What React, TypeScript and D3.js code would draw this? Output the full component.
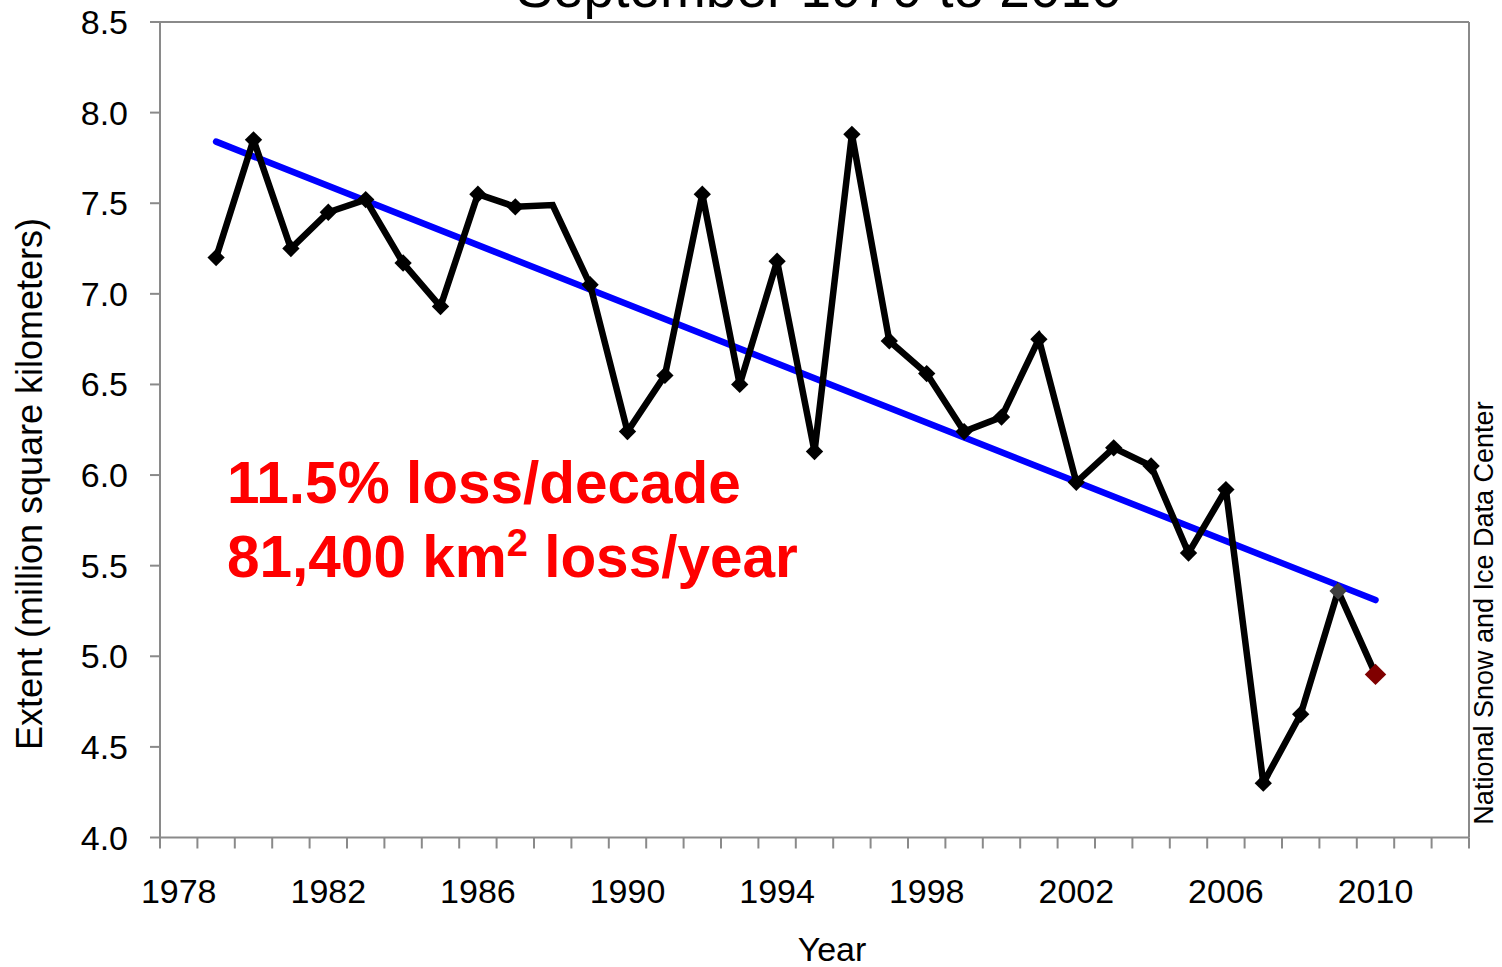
import React from "react";
import * as d3 from "d3";

const years = [1979, 1980, 1981, 1982, 1983, 1984, 1985, 1986, 1987, 1988, 1989, 1990, 1991, 1992, 1993, 1994, 1995, 1996, 1997, 1998, 1999, 2000, 2001, 2002, 2003, 2004, 2005, 2006, 2007, 2008, 2009, 2010];
const extentValues = [7.20, 7.85, 7.25, 7.45, 7.52, 7.17, 6.93, 7.55, 7.48, 7.49, 7.05, 6.24, 6.55, 7.55, 6.50, 7.18, 6.13, 7.88, 6.74, 6.56, 6.24, 6.32, 6.75, 5.96, 6.15, 6.05, 5.57, 5.92, 4.30, 4.68, 5.36, 4.90];
const trendYears = [1979, 2010];
const trendValues = [7.84, 5.31];
const yTickValues = [4.0, 4.5, 5.0, 5.5, 6.0, 6.5, 7.0, 7.5, 8.0, 8.5];
const xLabelYears = [1978, 1982, 1986, 1990, 1994, 1998, 2002, 2006, 2010];
const xBoundaryTicks = [1977.5, 1978.5, 1979.5, 1980.5, 1981.5, 1982.5, 1983.5, 1984.5, 1985.5, 1986.5, 1987.5, 1988.5, 1989.5, 1990.5, 1991.5, 1992.5, 1993.5, 1994.5, 1995.5, 1996.5, 1997.5, 1998.5, 1999.5, 2000.5, 2001.5, 2002.5, 2003.5, 2004.5, 2005.5, 2006.5, 2007.5, 2008.5, 2009.5, 2010.5, 2011.5, 2012.5];

const title = "September 1979 to 2010";
const annotation1 = "11.5% loss/decade";
const annotation2a = "81,400 km";
const annotation2b = "2";
const annotation2c = " loss/year";
const yAxisTitle = "Extent (million square kilometers)";
const xAxisTitle = "Year";
const credit = "National Snow and Ice Data Center";

const W = 1502;
const H = 967;
const left = 160;
const right = 1469;
const top = 22;
const bottom = 837.5;
const FONT = "'Liberation Sans', Arial, Helvetica, sans-serif";
const AXIS = "#8a8a8a";

export default function App() {
  const x = d3.scaleLinear().domain([1977.5, 2012.5]).range([left, right]);
  const y = d3.scaleLinear().domain([4.0, 8.5]).range([bottom, top]);

  const line = d3
    .line<number>()
    .x((_, i) => x(years[i]))
    .y((v) => y(v));
  const trend = d3
    .line<number>()
    .x((_, i) => x(trendYears[i]))
    .y((v) => y(v));

  const diamond = d3.symbol().type(d3.symbolSquare);
  const smallDiamond = diamond.size(150)() as string;
  const bigDiamond = diamond.size(230)() as string;

  return (
    <svg
      width={W}
      height={H}
      viewBox={`0 0 ${W} ${H}`}
      style={{ position: "absolute", left: 0, top: 0, background: "#fff" }}
      fontFamily={FONT}
    >
      <rect x={0} y={0} width={W} height={H} fill="#fff" />
      {/* title (cropped at top, as in the reference) */}
      <text x={819} y={7} textAnchor="middle" fontSize={55} fill="#000">
        {title}
      </text>

      {/* plot frame */}
      <line x1={left} x2={right} y1={top} y2={top} stroke={AXIS} strokeWidth={2} />
      <line x1={right} x2={right} y1={top} y2={bottom} stroke={AXIS} strokeWidth={2} />
      <line x1={left} x2={left} y1={top} y2={bottom} stroke={AXIS} strokeWidth={2} />
      <line x1={left} x2={right} y1={bottom} y2={bottom} stroke={AXIS} strokeWidth={2} />

      {/* y ticks */}
      {yTickValues.map((v) => (
        <g key={"y" + v}>
          <line x1={left - 10} x2={left} y1={y(v)} y2={y(v)} stroke={AXIS} strokeWidth={2} />
          <text x={128} y={y(v) + 12} textAnchor="end" fontSize={34} fill="#000">
            {v.toFixed(1)}
          </text>
        </g>
      ))}

      {/* x ticks */}
      {xBoundaryTicks.map((t) => (
        <line key={"xt" + t} x1={x(t)} x2={x(t)} y1={bottom} y2={bottom + 11} stroke={AXIS} strokeWidth={2} />
      ))}
      {xLabelYears.map((t) => (
        <text key={"xl" + t} x={x(t)} y={903} textAnchor="middle" fontSize={34} fill="#000">
          {t}
        </text>
      ))}

      {/* axis titles */}
      <text x={832} y={961} textAnchor="middle" fontSize={34} fill="#000">
        {xAxisTitle}
      </text>
      <text
        transform={`translate(42,484) rotate(-90)`}
        textAnchor="middle"
        fontSize={36}
        fill="#000"
      >
        {yAxisTitle}
      </text>
      <text
        transform={`translate(1493,613) rotate(-90)`}
        textAnchor="middle"
        fontSize={27}
        fill="#000"
      >
        {credit}
      </text>

      {/* trend line */}
      <path
        d={trend(trendValues) as string}
        fill="none"
        stroke="#0000ff"
        strokeWidth={6.5}
        strokeLinecap="round"
      />

      {/* data line */}
      <path
        d={line(extentValues) as string}
        fill="none"
        stroke="#000"
        strokeWidth={6.5}
        strokeLinejoin="miter"
        strokeMiterlimit={3}
      />

      {/* markers */}
      {extentValues.map((v, i) => {
        const yr = years[i];
        if (yr === 1988) return null;
        const last = i === extentValues.length - 1;
        const fill = last ? "#800000" : yr === 2009 ? "#404040" : "#000";
        return (
          <path
            key={"m" + yr}
            d={last ? bigDiamond : smallDiamond}
            transform={`translate(${x(yr)},${y(v)}) rotate(45)`}
            fill={fill}
          />
        );
      })}

      {/* annotations */}
      <text x={227} y={503} fontSize={58.5} fontWeight="bold" fill="#ff0000">
        {annotation1}
      </text>
      <text x={227} y={577} fontSize={58.5} fontWeight="bold" fill="#ff0000">
        {annotation2a}
        <tspan fontSize={38} dy={-21}>
          {annotation2b}
        </tspan>
        <tspan dy={21}>{annotation2c}</tspan>
      </text>
    </svg>
  );
}
